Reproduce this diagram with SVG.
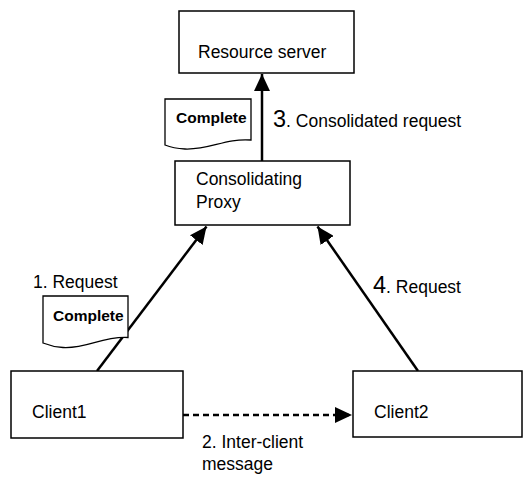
<svg xmlns="http://www.w3.org/2000/svg" width="531" height="477" viewBox="0 0 531 477">
<style>
.box{fill:#fff;stroke:#000;stroke-width:1.5}
.doc{fill:#fff;stroke:#000;stroke-width:1.3}
.t{font-family:"Liberation Sans",Arial,sans-serif;font-size:17.5px;fill:#000}
.big{font-size:23.5px}
.b{font-family:"Liberation Sans",Arial,sans-serif;font-size:15.5px;font-weight:bold;fill:#000}
.c{stroke:#000;stroke-width:2.5;fill:none}
.d{stroke-dasharray:6 4}
</style>
<defs>
<marker id="ah" markerUnits="userSpaceOnUse" markerWidth="18" markerHeight="16" refX="17" refY="8" orient="auto">
<path d="M0,0 L17,8 L0,16 Z" fill="#000"/>
</marker>
</defs>
<g id="connectors">
<line class="c" x1="262" y1="161" x2="262" y2="74" marker-end="url(#ah)"/>
<line class="c" x1="97" y1="371" x2="206.5" y2="226.5" marker-end="url(#ah)"/>
<line class="c" x1="418" y1="371" x2="317.5" y2="226.5" marker-end="url(#ah)"/>
<line class="c d" x1="183" y1="415" x2="352" y2="415" marker-end="url(#ah)"/>
</g>
<g id="resource-server">
<rect class="box" x="179" y="11" width="175" height="62"/>
<text class="t" x="198" y="58">Resource server</text>
</g>
<g id="proxy">
<rect class="box" x="175" y="161" width="175" height="64"/>
<text class="t" x="196" y="185">Consolidating</text>
<text class="t" x="196" y="208">Proxy</text>
</g>
<g id="client1">
<rect class="box" x="11" y="371" width="172" height="67"/>
<text class="t" x="32" y="418">Client1</text>
</g>
<g id="client2">
<rect class="box" x="353" y="371" width="169" height="66"/>
<text class="t" x="374" y="418">Client2</text>
</g>
<g id="doc-top">
<path class="doc" d="M165,99 H251 V140 C225,138 210,150 185,149 C176,148.5 170,147 165,145 Z"/>
<text class="b" x="176" y="123">Complete</text>
</g>
<g id="doc-left">
<path class="doc" d="M43,296 H128 V337.5 C102,336 87,349 63,347.5 C54,347 48,345 43,343 Z"/>
<text class="b" x="53" y="321">Complete</text>
</g>
<g id="labels">
<text class="t" x="273" y="127"><tspan class="big">3</tspan>. Consolidated request</text>
<text class="t" x="33" y="288">1. Request</text>
<text class="t" x="373" y="293"><tspan class="big">4</tspan>. Request</text>
<text class="t" x="202" y="448">2. Inter-client</text>
<text class="t" x="202" y="470">message</text>
</g>
</svg>
